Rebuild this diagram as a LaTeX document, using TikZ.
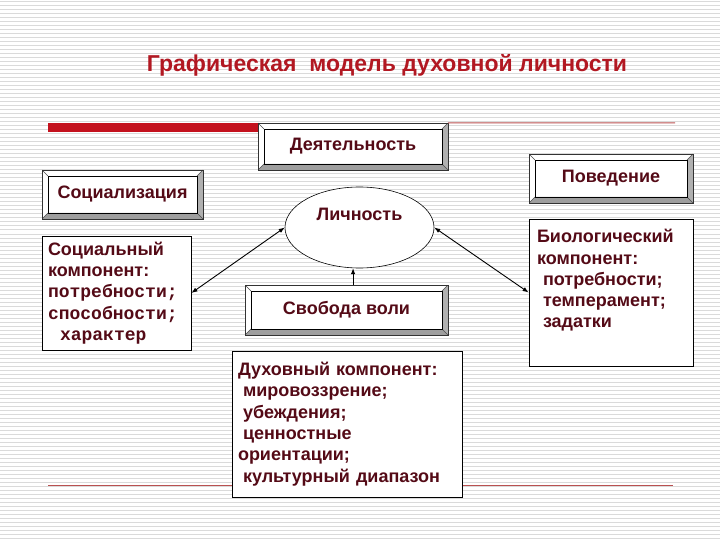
\documentclass[tikz,border=0pt]{standalone}
\usepackage{fontspec}
\setmainfont{Liberation Sans}
\newfontfamily\courierfont{Liberation Mono}
\usetikzlibrary{calc,arrows.meta,positioning,shapes.geometric}
\definecolor{titlered}{RGB}{178,24,34}
\definecolor{barred}{RGB}{196,18,30}
\definecolor{linered}{RGB}{186,80,80}
\definecolor{txtred}{RGB}{84,10,22}
\definecolor{stripe}{RGB}{218,218,218}
\definecolor{bevelside}{RGB}{176,176,176}
\definecolor{bevelbottom}{RGB}{158,158,158}
\newcommand{\boxfont}{\fontsize{18}{21.3}\selectfont\bfseries}

\begin{document}
\begin{tikzpicture}[x=1pt,y=-1pt,
    bevelbox/.style={draw=black!80,fill=white,font=\boxfont,text=txtred,
        path picture={
            \path (path picture bounding box.north west) coordinate (bnw)
                  (path picture bounding box.south east) coordinate (bse);
            \fill[bevelside] (bnw -| bse) -- (bse) -- ++(-6pt,6pt)
                -- ($(bnw -| bse)+(-6pt,-6pt)$) -- cycle;
            \fill[bevelbottom] (bse) -- (bnw |- bse) -- ++(6pt,6pt)
                -- ($(bse)+(-6pt,6pt)$) -- cycle;
            \draw[black!70,line width=0.5] (bnw) -- ++(6pt,-6pt)
                (bnw -| bse) -- ++(-6pt,-6pt)
                (bse) -- ++(-6pt,6pt)
                (bnw |- bse) -- ++(6pt,6pt);
            \draw[black,line width=0.8] ($(bnw)+(6pt,-6pt)$) rectangle ($(bse)+(-6pt,6pt)$);
        }},
    plainbox/.style={draw=black,line width=0.8,fill=white,font=\boxfont,
        text=txtred,align=left,inner ysep=2pt},
    dblarrow/.style={black,line width=0.9,{Latex[length=6pt,width=4.5pt]}-{Latex[length=6pt,width=4.5pt]}},
    onearrow/.style={black,line width=0.9,-{Latex[length=6pt,width=4.5pt]}}]

% Page and striped background
\fill[white] (0,0) rectangle (720,540);
\useasboundingbox (0,0) rectangle (720,540);
\foreach \y in {2,6,...,538} {
    \draw[stripe,line width=1] (0,\y) -- (720,\y);
}

% Title
\node[font=\fontsize{23}{27}\selectfont\bfseries,text=titlered] (title) at (387,65)
    {Графическая\ \ модель духовной личности};

% Rules
\coordinate (botstart) at (48,485);
\coordinate (botend) at (673,485);
\draw[linered,line width=1] (botstart) -- (botend);

% Boxes
\node[bevelbox,minimum width=190,minimum height=47] (deyat) at (353,146.5) {Деятельность};
\node[bevelbox,minimum width=161,minimum height=49] (social) at (122.5,194.5) {Социализация};
\node[bevelbox,minimum width=164,minimum height=49] (behav) at (611,178.5) {Поведение};
\node[bevelbox,minimum width=203,minimum height=50] (freewill) at (346.5,310) {Свобода воли};

\node[ellipse,draw=black,line width=0.6,fill=white,minimum width=149,minimum height=81,
      font=\boxfont,text=txtred,align=center] (person) at (359.5,227.5) {Личность\\[6pt]\mbox{}};

\node[plainbox,text width=137,inner xsep=6,minimum height=114] (socpart) at (116.5,293) {
    Социальный\\
    компонент:\\
    {\courierfont\bfseries потребности;}\\
    {\courierfont\bfseries способности;}\\
    \hspace*{12pt}{\courierfont\bfseries характер}
};

\node[plainbox,text width=148,inner xsep=8,minimum height=147] (bio) at (611,292.5) {
    Биологический\\
    компонент:\\
    \hspace*{6pt}потребности;\\
    \hspace*{6pt}темперамент;\\
    \hspace*{6pt}задатки\\
    \strut
};

\node[plainbox,text width=218,inner xsep=6,minimum height=146] (spirit) at (347,424) {
    Духовный компонент:\\
    \hspace*{5pt}мировоззрение;\\
    \hspace*{5pt}убеждения;\\
    \hspace*{5pt}ценностные\\
    ориентации;\\
    \hspace*{5pt}культурный диапазон
};

% Red bar and thin rule at the top
\coordinate (barstart) at (48,127.5);
\draw[barred,line width=9] (barstart) -- (barstart -| deyat.west);
\coordinate (topend) at (675,123);
\draw[linered,line width=1] (deyat.north east) -- (topend);

% Connectors
\draw[dblarrow] (person.west) -- (socpart.east);
\draw[dblarrow] (person.east) -- (bio.west);
\draw[onearrow] (freewill.north -| person.261) -- (person.261);

\end{tikzpicture}
\end{document}
